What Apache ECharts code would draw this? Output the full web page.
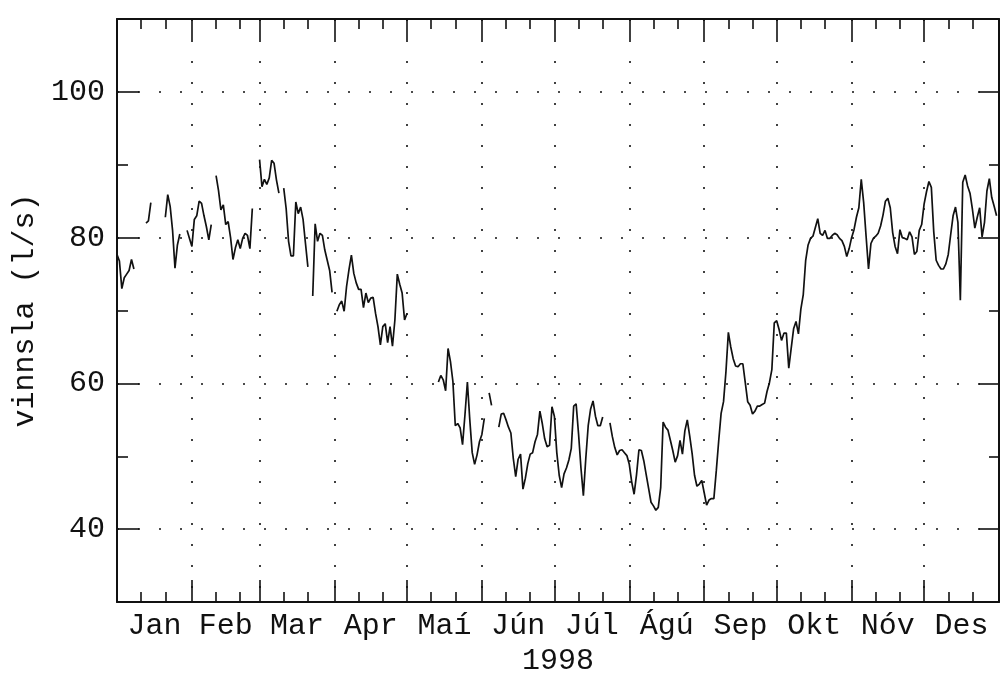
<!DOCTYPE html>
<html>
<head>
<meta charset="utf-8">
<script src="https://cdn.jsdelivr.net/npm/echarts@6/dist/echarts.min.js"></script>
<style>
html,body{margin:0;padding:0;background:#fff;}
#chart{width:1002px;height:681px;}
</style>
</head>
<body>
<div id="chart"></div>
<script>
// month labels and the day of 1998 each month starts on
var months = ['Jan','Feb','Mar','Apr','Maí','Jún','Júl','Ágú','Sep','Okt','Nóv','Des'];
var monthStarts = [0,31,59,90,120,151,181,212,243,273,304,334,365];
var yMajor = [40,60,80,100];
var yMinor = [50,70,90];

// daily flow (l/s), each piece starts on its date, missing days between pieces
var janA = [77.7,76.8,73.0,74.5,75.0,75.5,77.0,75.7];
var janB = [82.0,82.3,84.8];
var janC = [82.8,85.9,84.3,81.0,75.8,79.0,80.5];
var janD = [81.0,79.9,78.8,82.5,83.0,85.0,84.7,83.0,81.5,79.7,81.8];
var febA = [88.5,86.5,83.8,84.5,81.8,82.2,80.0,77.0,78.6,79.7,78.5,79.9,80.6,80.3,78.5,84.0];
var marA = [90.7,87.0,88.0,87.3,88.2,90.6,90.2,87.9,86.1];
var marB = [86.8,84.0,79.5,77.5,77.5,84.9,83.3,84.2,82.5,79.2,76.0];
var marC = [72.0,81.9,79.5,80.6,80.3,78.3,76.9,75.5,72.5];
var aprA = [69.9,70.8,71.3,69.9,73.3,75.6,77.6,75.1,73.8,72.9,72.9,70.4,72.4,71.1,71.7,
            71.8,69.6,67.8,65.3,67.8,68.2,65.6,67.8,65.1,68.7,75.0,73.6,72.4,68.7,69.6];
var mayA = [60.2,61.1,60.5,59.0,64.8,63.0,60.3,54.2,54.5,53.9,51.6,55.7,60.2,55.0,50.5,
            48.9,50.2,52.0,53.0,55.2];
var junA = [58.7,57.0];
var junB = [54.0,55.8,55.9,55.0,54.0,53.2,49.7,47.2,49.6,50.3,45.5,47.0,49.0,50.3,50.5,
            52.0,53.0,56.2,54.5,52.4,51.3,51.5,56.8,55.5,50.5,47.4,45.7,47.6,48.4,49.5,
            51.1,56.9,57.2,53.1,48.4,44.6,49.7,54.2,56.5,57.6,55.5,54.2,54.2,55.4];
var julA = [54.6,52.7,51.2,50.2,50.8,50.9,50.5,50.1,48.9,46.5,44.8,47.5,50.9,50.8,49.4,
            47.5,45.6,43.7,43.2,42.6,43.0,45.7,54.7,54.0,53.6,52.2,50.8,49.2,50.1,52.2,
            50.3,53.5,55.0,52.8,50.4,47.4,45.9,46.2,46.7];
var sepA = [45.0,43.3,44.0,44.2,44.2,48.0,52.1,55.9,57.5,61.6,67.0,65.0,63.4,62.4,62.3,
            62.7,62.7,60.1,57.5,57.0,55.8,56.2,56.9,56.9,57.1,57.3,58.9,60.1,61.9,68.3];
var oktA = [68.6,67.4,65.9,66.9,66.9,62.1,64.8,67.5,68.5,66.8,70.2,72.2,76.9,79.0,79.9,
            80.2,81.4,82.6,80.6,80.3,81.0,79.9,79.9,80.3,80.6,80.4,79.9,79.6,78.8,77.4,78.5];
var novA = [80.0,81.1,82.8,84.1,88.0,84.8,80.2,75.7,79.2,79.9,80.2,80.6,81.6,83.1,85.0,
            85.4,84.1,80.7,78.8,77.8,81.1,80.0,79.9,79.7,80.8,80.1,77.7,78.1,81.0,81.8];
var desA = [84.6,86.3,87.7,86.9,80.8,76.9,76.2,75.7,75.7,76.4,77.7,80.4,83.0,84.2,82.1,
            71.4,87.6,88.6,87.1,86.1,83.9,81.3,82.8,84.1,80.1,82.1,86.4,88.1,85.5,84.3,83.0];

var pieces = [
  ['1998-01-01', janA], ['1998-01-13', janB], ['1998-01-21', janC], ['1998-01-30', janD],
  ['1998-02-11', febA], ['1998-03-01', marA], ['1998-03-11', marB], ['1998-03-23', marC],
  ['1998-04-02', aprA], ['1998-05-14', mayA], ['1998-06-04', junA], ['1998-06-08', junB],
  ['1998-07-24', julA], ['1998-09-01', sepA], ['1998-10-01', oktA], ['1998-11-01', novA],
  ['1998-12-01', desA]
];

function dayOfYear(s){
  var p = s.split('-');
  return Math.round((Date.UTC(+p[0], +p[1]-1, +p[2]) - Date.UTC(1998,0,1)) / 86400000);
}

var flow = [];
for (var d = 0; d < 365; d++) flow.push([d, null]);
pieces.forEach(function(p){
  var s = dayOfYear(p[0]);
  p[1].forEach(function(v, i){ flow[s + i][1] = v; });
});

var monthMids = [], minorDays = [];
for (var i = 0; i < 12; i++) {
  monthMids.push((monthStarts[i] + monthStarts[i+1]) / 2);
  minorDays.push(monthStarts[i] + 10, monthStarts[i] + 20);
}

var font = 'Liberation Mono';
var ink = '#111';
var dotted = {color: ink, width: 1.6, type: [2, 19]};

function xAx(pos, ticks, len, main){
  return {
    type: 'value', position: pos, min: 0, max: 365,
    axisLine: {show: main, lineStyle: {color: ink, width: 2}},
    axisTick: {show: true, inside: true, length: len, customValues: ticks, lineStyle: {color: ink, width: 1.6}},
    axisLabel: {show: false},
    splitLine: {show: false}
  };
}
function yAx(pos, ticks, len, main){
  return {
    type: 'value', position: pos, min: 30, max: 110,
    axisLine: {show: main, onZero: false, lineStyle: {color: ink, width: 2}},
    axisTick: {show: true, inside: true, length: len, customValues: ticks, lineStyle: {color: ink, width: 1.6}},
    axisLabel: {show: false},
    splitLine: {show: false}
  };
}

var xBottom = xAx('bottom', monthStarts, 22, true);
xBottom.axisLabel = {
  show: true, customValues: monthMids, margin: 9,
  fontFamily: font, fontSize: 30, color: ink,
  formatter: function(v){ return months[monthMids.indexOf(v)]; }
};
xBottom.splitLine = {show: true, lineStyle: dotted};
xBottom.name = '1998';
xBottom.nameLocation = 'middle';
xBottom.nameGap = 40;
xBottom.nameTextStyle = {fontFamily: font, fontSize: 30, color: ink};

var yLeft = yAx('left', yMajor, 22, true);
yLeft.axisLabel = {show: true, customValues: yMajor, margin: 12, fontFamily: font, fontSize: 30, color: ink};
yLeft.splitLine = {show: true, lineStyle: dotted};
yLeft.name = 'vinnsla (l/s)';
yLeft.nameLocation = 'middle';
yLeft.nameGap = 72;
yLeft.nameTextStyle = {fontFamily: font, fontSize: 30, color: ink};

var chart = echarts.init(document.getElementById('chart'));
chart.setOption({
  animation: false,
  backgroundColor: '#fff',
  grid: {left: 117, right: 3, top: 19, bottom: 75},
  xAxis: [
    xBottom,
    xAx('bottom', minorDays, 10, false),
    xAx('top', monthStarts, 21, true),
    xAx('top', minorDays, 10, false)
  ],
  yAxis: [
    yLeft,
    yAx('left', yMinor, 11, false),
    yAx('right', yMajor, 20, true),
    yAx('right', yMinor, 10, false)
  ],
  series: [{
    type: 'line',
    data: flow,
    showSymbol: false,
    connectNulls: false,
    lineStyle: {color: ink, width: 1.7},
    itemStyle: {color: ink}
  }]
});
</script>
</body>
</html>
